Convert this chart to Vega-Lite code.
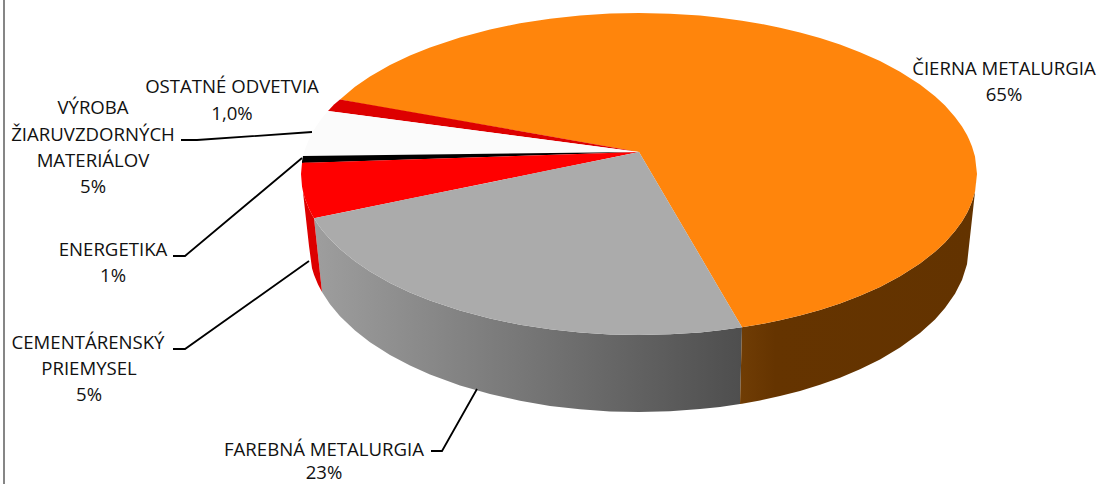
{"$schema":"https://vega.github.io/schema/vega-lite/v6.json","width":1101,"height":484,"padding":0,"autosize":"none","background":"white","view":{"stroke":null},
"datasets":{
"side_gray":[{"x":314,"y":218.2,"y2":218.2},{"x":318,"y":255,"y2":224.4},{"x":322,"y":292.1,"y2":229.9},{"x":330,"y":304.3,"y2":239.2},{"x":340,"y":316.2,"y2":249.1},{"x":355,"y":330.5,"y2":261.3},{"x":370,"y":342.2,"y2":271.5},{"x":390,"y":354.9,"y2":282.9},{"x":410,"y":365.5,"y2":292.4},{"x":430,"y":374.5,"y2":300.5},{"x":460,"y":385.5,"y2":310.6},{"x":490,"y":394.1,"y2":318.5},{"x":520,"y":400.8,"y2":324.7},{"x":550,"y":405.9,"y2":329.3},{"x":580,"y":409.3,"y2":332.5},{"x":610,"y":411.4,"y2":334.4},{"x":639,"y":412,"y2":335},{"x":670,"y":411.3,"y2":334.3},{"x":700,"y":409.1,"y2":332.4},{"x":720,"y":406.9,"y2":330.3},{"x":740,"y":404,"y2":327.6},{"x":742,"y":327.3,"y2":327.3}],
"side_orange":[{"x":740,"y":404,"y2":404},{"x":742,"y":403.7,"y2":327.3},{"x":760,"y":400.4,"y2":324.3},{"x":780,"y":396.1,"y2":320.3},{"x":800,"y":390.9,"y2":315.6},{"x":820,"y":384.8,"y2":310},{"x":840,"y":377.7,"y2":303.4},{"x":860,"y":369.3,"y2":295.8},{"x":880,"y":359.4,"y2":286.9},{"x":900,"y":347.6,"y2":276.3},{"x":920,"y":333,"y2":263.5},{"x":935,"y":319.4,"y2":251.7},{"x":945,"y":308.1,"y2":242.4},{"x":955,"y":293.8,"y2":231.1},{"x":962,"y":280,"y2":221.4},{"x":967,"y":264.3,"y2":212.9},{"x":969,"y":246,"y2":208.8},{"x":972,"y":219,"y2":201.6},{"x":975,"y":192,"y2":191.5},{"x":977,"y":174,"y2":174}],
"flat":[
{"part":"side_red","x":303,"y":192,"y2":191.5},{"part":"side_red","x":305,"y":210,"y2":198.7},{"part":"side_red","x":309,"y":246,"y2":208.8},{"part":"side_red","x":312,"y":268.3,"y2":214.7},{"part":"side_red","x":314,"y":274.8,"y2":218.2},{"part":"side_red","x":318,"y":284.5,"y2":255},{"part":"side_red","x":322,"y":292.1,"y2":292.1},
{"part":"orange","x":340,"y":99.5,"y2":99.5},{"part":"orange","x":355,"y":86.7,"y2":102.6},{"part":"orange","x":370,"y":76.5,"y2":105.2},{"part":"orange","x":390,"y":65.1,"y2":108.7},{"part":"orange","x":410,"y":55.6,"y2":112.2},{"part":"orange","x":430,"y":47.5,"y2":115.7},{"part":"orange","x":460,"y":37.4,"y2":120.9},{"part":"orange","x":490,"y":29.5,"y2":126.1},{"part":"orange","x":520,"y":23.3,"y2":131.3},{"part":"orange","x":550,"y":18.7,"y2":136.5},{"part":"orange","x":580,"y":15.5,"y2":141.7},{"part":"orange","x":610,"y":13.6,"y2":147},{"part":"orange","x":639,"y":13,"y2":152},{"part":"orange","x":670,"y":13.7,"y2":204.8},{"part":"orange","x":700,"y":15.6,"y2":255.8},{"part":"orange","x":720,"y":17.7,"y2":289.9},{"part":"orange","x":742,"y":20.7,"y2":327.3},{"part":"orange","x":760,"y":23.7,"y2":324.3},{"part":"orange","x":780,"y":27.7,"y2":320.3},{"part":"orange","x":800,"y":32.4,"y2":315.6},{"part":"orange","x":820,"y":38,"y2":310},{"part":"orange","x":840,"y":44.6,"y2":303.4},{"part":"orange","x":860,"y":52.2,"y2":295.8},{"part":"orange","x":880,"y":61.1,"y2":286.9},{"part":"orange","x":900,"y":71.7,"y2":276.3},{"part":"orange","x":920,"y":84.5,"y2":263.5},{"part":"orange","x":935,"y":96.3,"y2":251.7},{"part":"orange","x":945,"y":105.6,"y2":242.4},{"part":"orange","x":955,"y":116.9,"y2":231.1},{"part":"orange","x":962,"y":126.6,"y2":221.4},{"part":"orange","x":967,"y":135.1,"y2":212.9},{"part":"orange","x":969,"y":139.2,"y2":208.8},{"part":"orange","x":972,"y":146.4,"y2":201.6},{"part":"orange","x":975,"y":156.5,"y2":191.5},{"part":"orange","x":977,"y":174,"y2":174},
{"part":"other","x":328,"y":111,"y2":111},{"part":"other","x":334,"y":104.6,"y2":111.8},{"part":"other","x":340,"y":99.5,"y2":112.6},{"part":"other","x":639,"y":152,"y2":152},
{"part":"refractory","x":303,"y":156,"y2":156},{"part":"refractory","x":305,"y":149.3,"y2":156},{"part":"refractory","x":308,"y":141.4,"y2":155.9},{"part":"refractory","x":312,"y":133.3,"y2":155.9},{"part":"refractory","x":316,"y":126.6,"y2":155.8},{"part":"refractory","x":322,"y":118.1,"y2":155.8},{"part":"refractory","x":328,"y":110.9,"y2":155.7},{"part":"refractory","x":639,"y":152,"y2":152},
{"part":"energy","x":302,"y":161.6,"y2":163},{"part":"energy","x":303,"y":156,"y2":163},{"part":"energy","x":639,"y":152,"y2":152},
{"part":"cement","x":301,"y":174,"y2":174},{"part":"cement","x":302,"y":163,"y2":186.4},{"part":"cement","x":303,"y":162.7,"y2":191.5},{"part":"cement","x":305,"y":162.6,"y2":198.7},{"part":"cement","x":309,"y":162.5,"y2":208.8},{"part":"cement","x":312,"y":162.4,"y2":214.7},{"part":"cement","x":314,"y":162.4,"y2":218.2},{"part":"cement","x":639,"y":152,"y2":152},
{"part":"gray","x":314,"y":218.2,"y2":218.2},{"part":"gray","x":318,"y":217.4,"y2":224.4},{"part":"gray","x":322,"y":216.6,"y2":229.9},{"part":"gray","x":330,"y":215,"y2":239.2},{"part":"gray","x":340,"y":212.9,"y2":249.1},{"part":"gray","x":355,"y":209.9,"y2":261.3},{"part":"gray","x":370,"y":206.8,"y2":271.5},{"part":"gray","x":390,"y":202.7,"y2":282.9},{"part":"gray","x":410,"y":198.6,"y2":292.4},{"part":"gray","x":430,"y":194.6,"y2":300.5},{"part":"gray","x":460,"y":188.5,"y2":310.6},{"part":"gray","x":490,"y":182.4,"y2":318.5},{"part":"gray","x":520,"y":176.3,"y2":324.7},{"part":"gray","x":550,"y":170.1,"y2":329.3},{"part":"gray","x":580,"y":164,"y2":332.5},{"part":"gray","x":610,"y":157.9,"y2":334.4},{"part":"gray","x":639,"y":152,"y2":335},{"part":"gray","x":670,"y":204.8,"y2":334.3},{"part":"gray","x":700,"y":255.8,"y2":332.4},{"part":"gray","x":720,"y":289.9,"y2":330.3},{"part":"gray","x":742,"y":327.3,"y2":327.3}
],
"leaders":[
{"k":"a","i":1,"x":181,"y":140},{"k":"a","i":2,"x":197,"y":140},{"k":"a","i":3,"x":312,"y":132},
{"k":"b","i":1,"x":173,"y":256},{"k":"b","i":2,"x":185,"y":256},{"k":"b","i":3,"x":302,"y":158},
{"k":"c","i":1,"x":173,"y":349},{"k":"c","i":2,"x":185,"y":349},{"k":"c","i":3,"x":309,"y":261},
{"k":"d","i":1,"x":431,"y":451},{"k":"d","i":2,"x":442,"y":451},{"k":"d","i":3,"x":477,"y":389}],
"labels":[
{"t":"OSTATNÉ ODVETVIA","x":232,"y":87},{"t":"1,0%","x":232,"y":114},
{"t":"VÝROBA","x":93,"y":108},{"t":"ŽIARUVZDORNÝCH","x":93,"y":135},{"t":"MATERIÁLOV","x":93,"y":161},{"t":"5%","x":93,"y":187},
{"t":"ENERGETIKA","x":113,"y":250},{"t":"1%","x":113,"y":276},
{"t":"CEMENTÁRENSKÝ","x":88,"y":343},{"t":"PRIEMYSEL","x":89,"y":369},{"t":"5%","x":89,"y":395},
{"t":"FAREBNÁ METALURGIA","x":324,"y":450},{"t":"23%","x":324,"y":473},
{"t":"ČIERNA METALURGIA","x":1004,"y":69},{"t":"65%","x":1004,"y":95}],
"frame":[{"x":4,"y":0,"y2":484}]
},
"encoding":{
"x":{"field":"x","type":"quantitative","scale":{"domain":[0,1101],"nice":false,"zero":false},"axis":null},
"y":{"field":"y","type":"quantitative","scale":{"domain":[484,0],"nice":false,"zero":false},"axis":null}
},
"layer":[
{"data":{"name":"frame"},"mark":{"type":"rule","color":"#868686","strokeWidth":2},"encoding":{"y2":{"field":"y2"}}},
{"data":{"name":"side_gray"},"mark":{"type":"area","orient":"vertical","color":{"gradient":"linear","x1":0,"y1":0,"x2":1,"y2":0,"stops":[{"offset":0,"color":"#9e9e9e"},{"offset":1,"color":"#4e4e4e"}]}},"encoding":{"y2":{"field":"y2"}}},
{"data":{"name":"side_orange"},"mark":{"type":"area","orient":"vertical","color":{"gradient":"linear","x1":0,"y1":0,"x2":1,"y2":0,"stops":[{"offset":0,"color":"#703d05"},{"offset":0.15,"color":"#653400"},{"offset":1,"color":"#633300"}]}},"encoding":{"y2":{"field":"y2"}}},
{"data":{"name":"flat"},"mark":{"type":"area","orient":"vertical"},"encoding":{"y2":{"field":"y2"},"color":{"field":"part","type":"nominal","legend":null,"scale":{"domain":["side_red","orange","other","refractory","energy","cement","gray"],"range":["#DD0000","#FF850C","#DD0000","#FBFBFB","#000000","#FF0000","#ABABAB"]}}}},
{"data":{"name":"leaders"},"mark":{"type":"line","color":"#000000","strokeWidth":1.8},"encoding":{"detail":{"field":"k"},"order":{"field":"i","type":"ordinal"}}},
{"data":{"name":"labels"},"mark":{"type":"text","font":"Open Sans","fontSize":18.6,"color":"#111111","align":"center","baseline":"middle"},"encoding":{"text":{"field":"t"}}}
]}
